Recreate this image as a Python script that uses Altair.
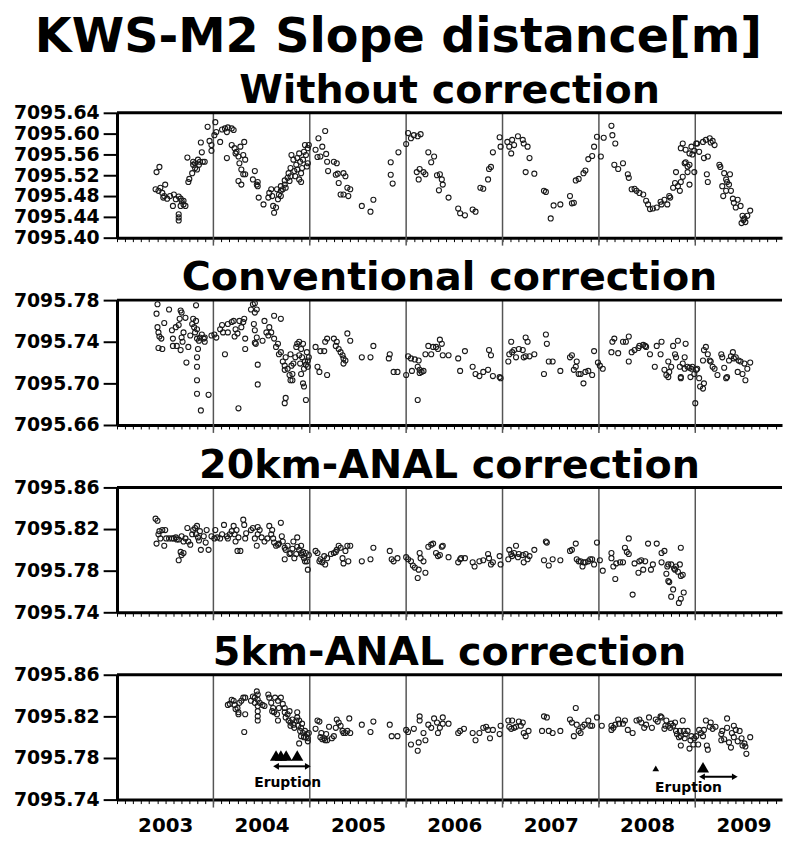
import altair as alt
import pandas as pd

# ------------------------------------------------------------------ data
MAIN_TITLE = "KWS-M2 Slope distance[m]"
PANEL_TITLES = ["Without correction", "Conventional correction",
                "20km-ANAL correction", "5km-ANAL correction"]
X_DOMAIN = [2003.0, 2009.9]
YEAR_LINES = [2004, 2005, 2006, 2007, 2008, 2009]
MONTH_TICKS = [round(2003 + k / 12, 4) for k in range(83)]
Y_DOMAINS = [[7095.40, 7095.64], [7095.66, 7095.78],
             [7095.74, 7095.86], [7095.74, 7095.86]]
Y_TICKS = [
    [7095.40, 7095.44, 7095.48, 7095.52, 7095.56, 7095.60, 7095.64],
    [7095.66, 7095.70, 7095.74, 7095.78],
    [7095.74, 7095.78, 7095.82, 7095.86],
    [7095.74, 7095.78, 7095.82, 7095.86],
]

NO_CORR = [
    (2003.41, 7095.526), (2003.44, 7095.536), (2003.40, 7095.493), (2003.43, 7095.490), (2003.45, 7095.496),
    (2003.47, 7095.486), (2003.49, 7095.480), (2003.50, 7095.502), (2003.48, 7095.477), (2003.52, 7095.475),
    (2003.55, 7095.480), (2003.59, 7095.483), (2003.61, 7095.474), (2003.64, 7095.479), (2003.66, 7095.475),
    (2003.67, 7095.471), (2003.69, 7095.464), (2003.66, 7095.461), (2003.64, 7095.445), (2003.64, 7095.439),
    (2003.64, 7095.433), (2003.71, 7095.461), (2003.69, 7095.471), (2003.58, 7095.461),
    (2003.74, 7095.507), (2003.75, 7095.513), (2003.78, 7095.524), (2003.79, 7095.540), (2003.81, 7095.543),
    (2003.79, 7095.546), (2003.81, 7095.534), (2003.83, 7095.531), (2003.84, 7095.550), (2003.85, 7095.540),
    (2003.86, 7095.546), (2003.89, 7095.546), (2003.88, 7095.564), (2003.87, 7095.583), (2003.91, 7095.546),
    (2003.94, 7095.613), (2003.96, 7095.586), (2003.98, 7095.567), (2003.98, 7095.578), (2003.73, 7095.554),
    (2004.02, 7095.622), (2004.03, 7095.603), (2004.01, 7095.597), (2004.07, 7095.584), (2004.09, 7095.608),
    (2004.12, 7095.610), (2004.14, 7095.603), (2004.15, 7095.612), (2004.19, 7095.610), (2004.21, 7095.607),
    (2004.14, 7095.553), (2004.19, 7095.578), (2004.22, 7095.572), (2004.23, 7095.562), (2004.24, 7095.565),
    (2004.26, 7095.556), (2004.28, 7095.575), (2004.31, 7095.559), (2004.32, 7095.584), (2004.33, 7095.550),
    (2004.27, 7095.543), (2004.29, 7095.531), (2004.26, 7095.509), (2004.29, 7095.502), (2004.31, 7095.522),
    (2004.33, 7095.522), (2004.41, 7095.512), (2004.43, 7095.528), (2004.45, 7095.502), (2004.46, 7095.507),
    (2004.46, 7095.499), (2004.47, 7095.477), (2004.52, 7095.464), (2004.57, 7095.477), (2004.58, 7095.486),
    (2004.60, 7095.493), (2004.61, 7095.480), (2004.62, 7095.461), (2004.63, 7095.448), (2004.65, 7095.458),
    (2004.67, 7095.474), (2004.68, 7095.483), (2004.66, 7095.493), (2004.70, 7095.490), (2004.70, 7095.499),
    (2004.72, 7095.493), (2004.74, 7095.502), (2004.74, 7095.510), (2004.77, 7095.515), (2004.78, 7095.524),
    (2004.80, 7095.518), (2004.80, 7095.534), (2004.81, 7095.559), (2004.83, 7095.550), (2004.84, 7095.528),
    (2004.86, 7095.540), (2004.87, 7095.553), (2004.89, 7095.562), (2004.90, 7095.546), (2004.91, 7095.524),
    (2004.91, 7095.507), (2004.92, 7095.534), (2004.93, 7095.550), (2004.94, 7095.565), (2004.95, 7095.578),
    (2004.96, 7095.559), (2004.98, 7095.572), (2004.98, 7095.543), (2004.99, 7095.578), (2004.97, 7095.537),
    (2004.70, 7095.480), (2004.75, 7095.496), (2004.79, 7095.509), (2004.85, 7095.518), (2004.87, 7095.531),
    (2004.89, 7095.512),
    (2005.06, 7095.569), (2005.08, 7095.555), (2005.09, 7095.591), (2005.11, 7095.556), (2005.13, 7095.575),
    (2005.16, 7095.605), (2005.17, 7095.561), (2005.18, 7095.546), (2005.19, 7095.528), (2005.25, 7095.546),
    (2005.27, 7095.521), (2005.28, 7095.543), (2005.29, 7095.523), (2005.30, 7095.505), (2005.32, 7095.483),
    (2005.35, 7095.524), (2005.37, 7095.518), (2005.35, 7095.483), (2005.39, 7095.496), (2005.42, 7095.493),
    (2005.40, 7095.480), (2005.54, 7095.461), (2005.63, 7095.450), (2005.66, 7095.473),
    (2005.84, 7095.545), (2005.84, 7095.521), (2005.86, 7095.504), (2005.92, 7095.564), (2006.00, 7095.580),
    (2006.02, 7095.601), (2006.05, 7095.591), (2006.08, 7095.597), (2006.12, 7095.595), (2006.15, 7095.599),
    (2006.11, 7095.526), (2006.13, 7095.512), (2006.14, 7095.532), (2006.18, 7095.526), (2006.20, 7095.522),
    (2006.23, 7095.564), (2006.26, 7095.545), (2006.29, 7095.556), (2006.32, 7095.520), (2006.35, 7095.522),
    (2006.37, 7095.512), (2006.34, 7095.491), (2006.38, 7095.502), (2006.44, 7095.477), (2006.54, 7095.456),
    (2006.56, 7095.447), (2006.61, 7095.443), (2006.69, 7095.454), (2006.72, 7095.450), (2006.77, 7095.496),
    (2006.80, 7095.494), (2006.85, 7095.512), (2006.86, 7095.532), (2006.88, 7095.536), (2006.90, 7095.564),
    (2006.97, 7095.593), (2006.98, 7095.575), (2007.05, 7095.584), (2007.07, 7095.575), (2007.10, 7095.588),
    (2007.09, 7095.562), (2007.12, 7095.578), (2007.16, 7095.595), (2007.21, 7095.588), (2007.22, 7095.581),
    (2007.26, 7095.575), (2007.28, 7095.553), (2007.24, 7095.526), (2007.33, 7095.523), (2007.43, 7095.490),
    (2007.45, 7095.488), (2007.50, 7095.437), (2007.53, 7095.462), (2007.60, 7095.464), (2007.70, 7095.480),
    (2007.72, 7095.466), (2007.74, 7095.467), (2007.76, 7095.510), (2007.79, 7095.513), (2007.84, 7095.524),
    (2007.86, 7095.529), (2007.89, 7095.551), (2007.93, 7095.557), (2007.95, 7095.575), (2007.98, 7095.594),
    (2008.02, 7095.556), (2008.05, 7095.592), (2008.13, 7095.615), (2008.14, 7095.597), (2008.17, 7095.581),
    (2008.16, 7095.540), (2008.20, 7095.532), (2008.25, 7095.543), (2008.30, 7095.522), (2008.31, 7095.515),
    (2008.34, 7095.493), (2008.37, 7095.494), (2008.39, 7095.490), (2008.42, 7095.486), (2008.46, 7095.483),
    (2008.49, 7095.471), (2008.51, 7095.464), (2008.53, 7095.455), (2008.56, 7095.456), (2008.60, 7095.458),
    (2008.64, 7095.469), (2008.65, 7095.464), (2008.68, 7095.473), (2008.71, 7095.464), (2008.73, 7095.480),
    (2008.74, 7095.477), (2008.77, 7095.496), (2008.79, 7095.505), (2008.80, 7095.526), (2008.82, 7095.499),
    (2008.84, 7095.490), (2008.85, 7095.507), (2008.87, 7095.517), (2008.89, 7095.543), (2008.90, 7095.545),
    (2008.92, 7095.537), (2008.94, 7095.502), (2008.85, 7095.572), (2008.87, 7095.581), (2008.90, 7095.569),
    (2008.94, 7095.562), (2008.96, 7095.575), (2008.97, 7095.560), (2008.99, 7095.567), (2009.01, 7095.581),
    (2008.99, 7095.526), (2008.92, 7095.526), (2008.94, 7095.540), (2009.02, 7095.581), (2009.04, 7095.565),
    (2009.08, 7095.584), (2009.11, 7095.588), (2009.15, 7095.591), (2009.16, 7095.583), (2009.20, 7095.578),
    (2009.18, 7095.586), (2009.09, 7095.553), (2009.13, 7095.556), (2009.12, 7095.522), (2009.13, 7095.507),
    (2009.25, 7095.540), (2009.26, 7095.536), (2009.30, 7095.524), (2009.32, 7095.512), (2009.33, 7095.507),
    (2009.36, 7095.522), (2009.28, 7095.499), (2009.29, 7095.480), (2009.32, 7095.490), (2009.35, 7095.502),
    (2009.37, 7095.490), (2009.39, 7095.475), (2009.40, 7095.467), (2009.42, 7095.458), (2009.44, 7095.473),
    (2009.47, 7095.461), (2009.49, 7095.442), (2009.48, 7095.428), (2009.51, 7095.437), (2009.52, 7095.430),
    (2009.54, 7095.442), (2009.57, 7095.452), (2009.50, 7095.434),
]

CONVENTIONAL = [
    (2003.42, 7095.776), (2003.41, 7095.767), (2003.42, 7095.754), (2003.43, 7095.749), (2003.44, 7095.745),
    (2003.46, 7095.743), (2003.43, 7095.734), (2003.47, 7095.733), (2003.49, 7095.758), (2003.54, 7095.771),
    (2003.57, 7095.751), (2003.58, 7095.743), (2003.61, 7095.754), (2003.64, 7095.756), (2003.65, 7095.762),
    (2003.66, 7095.770), (2003.67, 7095.768), (2003.67, 7095.744), (2003.68, 7095.740), (2003.69, 7095.749),
    (2003.71, 7095.763), (2003.66, 7095.732), (2003.62, 7095.736), (2003.58, 7095.736), (2003.72, 7095.720),
    (2003.74, 7095.735), (2003.76, 7095.746), (2003.78, 7095.757), (2003.79, 7095.762), (2003.80, 7095.754),
    (2003.81, 7095.749), (2003.82, 7095.775), (2003.82, 7095.760), (2003.83, 7095.752), (2003.83, 7095.743),
    (2003.84, 7095.733), (2003.85, 7095.741), (2003.86, 7095.744), (2003.83, 7095.725), (2003.83, 7095.716),
    (2003.83, 7095.703), (2003.83, 7095.690), (2003.87, 7095.674), (2003.88, 7095.747), (2003.90, 7095.743),
    (2003.91, 7095.740), (2003.91, 7095.744), (2003.95, 7095.689), (2003.98, 7095.746), (2004.01, 7095.747),
    (2004.03, 7095.744), (2004.07, 7095.752), (2004.09, 7095.756), (2004.10, 7095.749), (2004.12, 7095.728),
    (2004.15, 7095.749), (2004.15, 7095.757), (2004.19, 7095.759), (2004.21, 7095.760), (2004.22, 7095.745),
    (2004.23, 7095.752), (2004.25, 7095.748), (2004.27, 7095.760), (2004.29, 7095.754), (2004.31, 7095.759),
    (2004.32, 7095.762), (2004.33, 7095.743), (2004.33, 7095.733), (2004.26, 7095.676), (2004.39, 7095.771),
    (2004.41, 7095.776), (2004.43, 7095.777), (2004.43, 7095.768), (2004.45, 7095.771), (2004.42, 7095.757),
    (2004.43, 7095.751), (2004.45, 7095.744), (2004.43, 7095.739), (2004.44, 7095.738), (2004.46, 7095.718),
    (2004.46, 7095.699), (2004.51, 7095.741), (2004.53, 7095.760), (2004.55, 7095.749), (2004.57, 7095.746),
    (2004.58, 7095.754), (2004.60, 7095.749), (2004.63, 7095.765), (2004.63, 7095.743), (2004.65, 7095.735),
    (2004.67, 7095.738), (2004.68, 7095.728), (2004.70, 7095.762), (2004.70, 7095.730), (2004.72, 7095.721),
    (2004.74, 7095.717), (2004.74, 7095.713), (2004.75, 7095.725), (2004.77, 7095.714), (2004.79, 7095.708),
    (2004.80, 7095.703), (2004.80, 7095.728), (2004.81, 7095.717), (2004.82, 7095.709), (2004.82, 7095.703),
    (2004.75, 7095.686), (2004.74, 7095.681), (2004.83, 7095.719), (2004.85, 7095.725), (2004.86, 7095.735),
    (2004.87, 7095.738), (2004.89, 7095.740), (2004.89, 7095.727), (2004.90, 7095.719), (2004.91, 7095.709),
    (2004.91, 7095.733), (2004.92, 7095.725), (2004.93, 7095.738), (2004.94, 7095.714), (2004.95, 7095.721),
    (2004.96, 7095.718), (2004.97, 7095.730), (2004.98, 7095.722), (2004.98, 7095.716), (2004.99, 7095.725),
    (2004.94, 7095.697), (2004.96, 7095.684), (2004.93, 7095.700),
    (2005.06, 7095.735), (2005.08, 7095.716), (2005.10, 7095.711), (2005.11, 7095.731), (2005.15, 7095.731),
    (2005.16, 7095.740), (2005.18, 7095.708), (2005.18, 7095.743), (2005.25, 7095.743), (2005.27, 7095.736),
    (2005.28, 7095.740), (2005.30, 7095.733), (2005.32, 7095.730), (2005.34, 7095.727), (2005.35, 7095.724),
    (2005.35, 7095.719), (2005.37, 7095.722), (2005.39, 7095.748), (2005.42, 7095.741), (2005.54, 7095.725),
    (2005.63, 7095.725), (2005.66, 7095.736), (2005.82, 7095.724), (2005.83, 7095.728), (2005.87, 7095.711),
    (2005.91, 7095.711), (2006.00, 7095.708), (2006.02, 7095.726), (2006.05, 7095.724), (2006.06, 7095.712),
    (2006.09, 7095.723), (2006.12, 7095.716), (2006.13, 7095.722), (2006.14, 7095.713), (2006.14, 7095.710),
    (2006.16, 7095.711), (2006.18, 7095.712), (2006.12, 7095.684), (2006.20, 7095.728), (2006.23, 7095.736),
    (2006.26, 7095.728), (2006.28, 7095.735), (2006.31, 7095.735), (2006.33, 7095.733), (2006.35, 7095.742),
    (2006.37, 7095.738), (2006.38, 7095.727), (2006.44, 7095.727), (2006.54, 7095.724), (2006.56, 7095.712),
    (2006.61, 7095.731), (2006.69, 7095.716), (2006.72, 7095.709), (2006.76, 7095.707), (2006.80, 7095.711),
    (2006.85, 7095.713), (2006.86, 7095.732), (2006.88, 7095.727), (2006.90, 7095.707), (2006.97, 7095.706),
    (2006.98, 7095.705), (2007.06, 7095.721), (2007.07, 7095.728), (2007.09, 7095.740), (2007.10, 7095.730),
    (2007.12, 7095.732), (2007.14, 7095.725), (2007.17, 7095.733), (2007.21, 7095.732), (2007.22, 7095.725),
    (2007.24, 7095.726), (2007.26, 7095.740), (2007.28, 7095.726), (2007.24, 7095.744), (2007.33, 7095.728),
    (2007.43, 7095.709), (2007.45, 7095.747), (2007.46, 7095.738), (2007.48, 7095.721), (2007.52, 7095.721),
    (2007.60, 7095.712), (2007.70, 7095.725), (2007.72, 7095.727), (2007.74, 7095.713), (2007.76, 7095.716),
    (2007.77, 7095.721), (2007.79, 7095.709), (2007.81, 7095.709), (2007.84, 7095.700), (2007.86, 7095.711),
    (2007.89, 7095.712), (2007.93, 7095.708), (2007.95, 7095.731), (2007.99, 7095.720), (2008.01, 7095.717),
    (2008.04, 7095.714), (2008.13, 7095.730), (2008.14, 7095.740), (2008.16, 7095.743), (2008.20, 7095.729),
    (2008.25, 7095.740), (2008.28, 7095.740), (2008.31, 7095.721), (2008.31, 7095.745), (2008.34, 7095.730),
    (2008.37, 7095.732), (2008.41, 7095.734), (2008.42, 7095.736), (2008.46, 7095.737), (2008.48, 7095.736),
    (2008.49, 7095.735), (2008.53, 7095.728), (2008.58, 7095.716), (2008.60, 7095.736), (2008.64, 7095.728),
    (2008.65, 7095.740), (2008.68, 7095.713), (2008.70, 7095.708), (2008.72, 7095.706), (2008.72, 7095.721),
    (2008.73, 7095.711), (2008.75, 7095.716), (2008.77, 7095.736), (2008.79, 7095.728), (2008.80, 7095.725),
    (2008.82, 7095.741), (2008.84, 7095.716), (2008.85, 7095.706), (2008.85, 7095.705), (2008.87, 7095.719),
    (2008.89, 7095.714), (2008.90, 7095.738), (2008.89, 7095.725), (2008.92, 7095.716), (2008.94, 7095.715),
    (2008.95, 7095.706), (2008.96, 7095.714), (2008.97, 7095.716), (2008.99, 7095.709), (2009.00, 7095.681),
    (2009.01, 7095.713), (2009.02, 7095.714), (2009.04, 7095.705), (2009.05, 7095.697), (2009.08, 7095.695),
    (2009.09, 7095.700), (2009.08, 7095.722), (2009.09, 7095.732), (2009.11, 7095.735), (2009.13, 7095.728),
    (2009.15, 7095.722), (2009.16, 7095.721), (2009.18, 7095.716), (2009.20, 7095.714), (2009.23, 7095.708),
    (2009.27, 7095.728), (2009.28, 7095.725), (2009.30, 7095.715), (2009.32, 7095.705), (2009.33, 7095.706),
    (2009.35, 7095.722), (2009.37, 7095.726), (2009.39, 7095.730), (2009.40, 7095.724), (2009.42, 7095.725),
    (2009.44, 7095.711), (2009.45, 7095.722), (2009.47, 7095.721), (2009.49, 7095.709), (2009.51, 7095.719),
    (2009.52, 7095.703), (2009.54, 7095.714), (2009.57, 7095.720),
]

ANAL_20KM = [
    (2003.40, 7095.830), (2003.42, 7095.828), (2003.41, 7095.806), (2003.43, 7095.815), (2003.44, 7095.818),
    (2003.45, 7095.811), (2003.47, 7095.819), (2003.49, 7095.804), (2003.50, 7095.819), (2003.51, 7095.811),
    (2003.54, 7095.811), (2003.57, 7095.811), (2003.59, 7095.811), (2003.61, 7095.812), (2003.62, 7095.810),
    (2003.64, 7095.810), (2003.66, 7095.798), (2003.64, 7095.790), (2003.67, 7095.795), (2003.69, 7095.797),
    (2003.67, 7095.813), (2003.69, 7095.808), (2003.71, 7095.811), (2003.73, 7095.821), (2003.74, 7095.808),
    (2003.76, 7095.805), (2003.78, 7095.815), (2003.79, 7095.819), (2003.81, 7095.821), (2003.82, 7095.815),
    (2003.83, 7095.823), (2003.84, 7095.812), (2003.85, 7095.809), (2003.86, 7095.818), (2003.87, 7095.800),
    (2003.90, 7095.813), (2003.92, 7095.807), (2003.93, 7095.819), (2003.95, 7095.800), (2003.98, 7095.813),
    (2004.01, 7095.811), (2004.02, 7095.819), (2004.04, 7095.812), (2004.07, 7095.811), (2004.09, 7095.815),
    (2004.11, 7095.824), (2004.14, 7095.813), (2004.15, 7095.811), (2004.17, 7095.815), (2004.19, 7095.818),
    (2004.21, 7095.823), (2004.22, 7095.815), (2004.23, 7095.808), (2004.24, 7095.819), (2004.25, 7095.799),
    (2004.26, 7095.812), (2004.28, 7095.799), (2004.31, 7095.829), (2004.32, 7095.824), (2004.33, 7095.811),
    (2004.34, 7095.816), (2004.39, 7095.819), (2004.41, 7095.821), (2004.43, 7095.811), (2004.45, 7095.804),
    (2004.46, 7095.815), (2004.46, 7095.822), (2004.48, 7095.819), (2004.50, 7095.812), (2004.53, 7095.808),
    (2004.56, 7095.811), (2004.58, 7095.823), (2004.60, 7095.815), (2004.61, 7095.819), (2004.62, 7095.811),
    (2004.63, 7095.807), (2004.65, 7095.804), (2004.67, 7095.805), (2004.68, 7095.806), (2004.70, 7095.826),
    (2004.71, 7095.813), (2004.72, 7095.808), (2004.74, 7095.802), (2004.74, 7095.791), (2004.75, 7095.800),
    (2004.77, 7095.804), (2004.79, 7095.796), (2004.80, 7095.797), (2004.82, 7095.801), (2004.83, 7095.808),
    (2004.84, 7095.792), (2004.86, 7095.796), (2004.87, 7095.803), (2004.87, 7095.812), (2004.89, 7095.800),
    (2004.91, 7095.797), (2004.91, 7095.804), (2004.92, 7095.795), (2004.93, 7095.798), (2004.94, 7095.792),
    (2004.95, 7095.789), (2004.96, 7095.797), (2004.97, 7095.789), (2004.98, 7095.781), (2004.99, 7095.795),
    (2005.06, 7095.799), (2005.08, 7095.797), (2005.10, 7095.789), (2005.11, 7095.791), (2005.13, 7095.788),
    (2005.15, 7095.794), (2005.16, 7095.786), (2005.18, 7095.792), (2005.22, 7095.796), (2005.25, 7095.797),
    (2005.27, 7095.798), (2005.28, 7095.800), (2005.30, 7095.804), (2005.32, 7095.802), (2005.34, 7095.792),
    (2005.35, 7095.787), (2005.37, 7095.799), (2005.39, 7095.804), (2005.40, 7095.789), (2005.42, 7095.804),
    (2005.54, 7095.789), (2005.63, 7095.791), (2005.66, 7095.802), (2005.83, 7095.799), (2005.85, 7095.791),
    (2005.87, 7095.789), (2005.91, 7095.792), (2006.00, 7095.793), (2006.02, 7095.791), (2006.05, 7095.789),
    (2006.07, 7095.785), (2006.09, 7095.783), (2006.12, 7095.773), (2006.13, 7095.781), (2006.14, 7095.797),
    (2006.15, 7095.792), (2006.18, 7095.789), (2006.20, 7095.778), (2006.23, 7095.803), (2006.26, 7095.805),
    (2006.28, 7095.806), (2006.31, 7095.797), (2006.33, 7095.794), (2006.35, 7095.795), (2006.37, 7095.803),
    (2006.38, 7095.804), (2006.44, 7095.793), (2006.54, 7095.788), (2006.56, 7095.791), (2006.57, 7095.792),
    (2006.61, 7095.792), (2006.69, 7095.788), (2006.71, 7095.784), (2006.76, 7095.789), (2006.80, 7095.790),
    (2006.85, 7095.796), (2006.86, 7095.792), (2006.88, 7095.786), (2006.90, 7095.788), (2006.97, 7095.794),
    (2006.98, 7095.786), (2007.06, 7095.791), (2007.07, 7095.800), (2007.09, 7095.796), (2007.10, 7095.794),
    (2007.12, 7095.797), (2007.14, 7095.804), (2007.16, 7095.793), (2007.17, 7095.796), (2007.21, 7095.795),
    (2007.22, 7095.788), (2007.24, 7095.796), (2007.26, 7095.791), (2007.28, 7095.794), (2007.33, 7095.800),
    (2007.43, 7095.790), (2007.45, 7095.808), (2007.46, 7095.807), (2007.48, 7095.785), (2007.52, 7095.791),
    (2007.60, 7095.790), (2007.70, 7095.799), (2007.72, 7095.800), (2007.76, 7095.806), (2007.77, 7095.791),
    (2007.79, 7095.789), (2007.81, 7095.789), (2007.83, 7095.784), (2007.84, 7095.788), (2007.86, 7095.788),
    (2007.89, 7095.789), (2007.91, 7095.791), (2007.93, 7095.791), (2007.95, 7095.786), (2007.98, 7095.807),
    (2008.01, 7095.790), (2008.04, 7095.780), (2008.13, 7095.797), (2008.13, 7095.792), (2008.15, 7095.784),
    (2008.17, 7095.772), (2008.18, 7095.787), (2008.22, 7095.788), (2008.25, 7095.788), (2008.27, 7095.802),
    (2008.29, 7095.798), (2008.31, 7095.811), (2008.31, 7095.796), (2008.35, 7095.757), (2008.37, 7095.787),
    (2008.41, 7095.778), (2008.42, 7095.789), (2008.44, 7095.790), (2008.46, 7095.781), (2008.48, 7095.789),
    (2008.51, 7095.806), (2008.54, 7095.781), (2008.56, 7095.786), (2008.60, 7095.806), (2008.65, 7095.788),
    (2008.65, 7095.797), (2008.68, 7095.799), (2008.70, 7095.777), (2008.71, 7095.784), (2008.72, 7095.786),
    (2008.72, 7095.770), (2008.73, 7095.769), (2008.75, 7095.786), (2008.77, 7095.762), (2008.78, 7095.782),
    (2008.79, 7095.781), (2008.80, 7095.784), (2008.82, 7095.779), (2008.84, 7095.786), (2008.85, 7095.775),
    (2008.85, 7095.802), (2008.87, 7095.776), (2008.88, 7095.759), (2008.85, 7095.753), (2008.83, 7095.749),
    (2008.75, 7095.755),
]

ANAL_5KM = [
    (2004.15, 7095.831), (2004.17, 7095.832), (2004.19, 7095.836), (2004.21, 7095.835), (2004.22, 7095.831),
    (2004.23, 7095.827), (2004.25, 7095.828), (2004.26, 7095.824), (2004.26, 7095.822), (2004.27, 7095.833),
    (2004.29, 7095.835), (2004.31, 7095.838), (2004.33, 7095.838), (2004.33, 7095.822), (2004.32, 7095.805),
    (2004.39, 7095.835), (2004.41, 7095.839), (2004.43, 7095.838), (2004.43, 7095.833), (2004.45, 7095.844),
    (2004.46, 7095.841), (2004.46, 7095.830), (2004.46, 7095.825), (2004.46, 7095.820), (2004.46, 7095.816),
    (2004.46, 7095.836), (2004.48, 7095.833), (2004.51, 7095.831), (2004.53, 7095.830), (2004.57, 7095.841),
    (2004.58, 7095.838), (2004.60, 7095.833), (2004.61, 7095.825), (2004.62, 7095.828), (2004.63, 7095.824),
    (2004.64, 7095.838), (2004.66, 7095.822), (2004.67, 7095.816), (2004.67, 7095.835), (2004.68, 7095.828),
    (2004.70, 7095.838), (2004.72, 7095.832), (2004.74, 7095.828), (2004.74, 7095.824), (2004.75, 7095.819),
    (2004.77, 7095.822), (2004.78, 7095.816), (2004.79, 7095.825), (2004.80, 7095.811), (2004.80, 7095.814),
    (2004.82, 7095.817), (2004.83, 7095.812), (2004.84, 7095.809), (2004.86, 7095.816), (2004.87, 7095.819),
    (2004.87, 7095.824), (2004.88, 7095.811), (2004.89, 7095.816), (2004.90, 7095.806), (2004.91, 7095.801),
    (2004.91, 7095.809), (2004.92, 7095.813), (2004.93, 7095.804), (2004.94, 7095.800), (2004.95, 7095.806),
    (2004.96, 7095.800), (2004.97, 7095.803), (2004.98, 7095.799), (2004.98, 7095.796), (2004.99, 7095.804),
    (2004.89, 7095.794),
    (2005.06, 7095.808), (2005.08, 7095.816), (2005.10, 7095.815), (2005.11, 7095.800), (2005.12, 7095.804),
    (2005.13, 7095.798), (2005.15, 7095.799), (2005.16, 7095.797), (2005.17, 7095.803), (2005.18, 7095.797),
    (2005.20, 7095.810), (2005.23, 7095.799), (2005.25, 7095.801), (2005.27, 7095.809), (2005.28, 7095.817),
    (2005.30, 7095.814), (2005.32, 7095.811), (2005.34, 7095.806), (2005.35, 7095.804), (2005.37, 7095.804),
    (2005.39, 7095.806), (2005.41, 7095.818), (2005.42, 7095.804), (2005.54, 7095.812), (2005.63, 7095.805),
    (2005.66, 7095.815), (2005.83, 7095.812), (2005.85, 7095.801), (2005.91, 7095.801), (2006.00, 7095.807),
    (2006.02, 7095.805), (2006.05, 7095.793), (2006.08, 7095.808), (2006.12, 7095.787), (2006.13, 7095.795),
    (2006.14, 7095.820), (2006.14, 7095.816), (2006.18, 7095.804), (2006.20, 7095.797), (2006.23, 7095.812),
    (2006.26, 7095.809), (2006.29, 7095.818), (2006.32, 7095.814), (2006.33, 7095.804), (2006.35, 7095.809),
    (2006.38, 7095.819), (2006.38, 7095.813), (2006.44, 7095.813), (2006.54, 7095.804), (2006.56, 7095.806),
    (2006.60, 7095.808), (2006.69, 7095.804), (2006.72, 7095.797), (2006.76, 7095.804), (2006.80, 7095.809),
    (2006.83, 7095.810), (2006.85, 7095.807), (2006.87, 7095.799), (2006.90, 7095.807), (2006.97, 7095.803),
    (2006.98, 7095.811), (2007.06, 7095.816), (2007.07, 7095.810), (2007.09, 7095.808), (2007.10, 7095.816),
    (2007.12, 7095.809), (2007.14, 7095.810), (2007.17, 7095.815), (2007.19, 7095.811), (2007.21, 7095.814),
    (2007.22, 7095.804), (2007.24, 7095.801), (2007.27, 7095.806), (2007.41, 7095.806), (2007.43, 7095.820),
    (2007.46, 7095.819), (2007.48, 7095.806), (2007.52, 7095.804), (2007.60, 7095.806), (2007.70, 7095.817),
    (2007.72, 7095.814), (2007.74, 7095.801), (2007.76, 7095.828), (2007.77, 7095.812), (2007.79, 7095.806),
    (2007.81, 7095.804), (2007.83, 7095.810), (2007.85, 7095.812), (2007.89, 7095.816), (2007.91, 7095.811),
    (2007.93, 7095.811), (2007.98, 7095.819), (2008.03, 7095.811), (2008.13, 7095.807), (2008.13, 7095.811),
    (2008.15, 7095.809), (2008.17, 7095.812), (2008.20, 7095.817), (2008.21, 7095.813), (2008.25, 7095.813),
    (2008.27, 7095.816), (2008.30, 7095.807), (2008.35, 7095.804), (2008.39, 7095.816), (2008.42, 7095.817),
    (2008.44, 7095.814), (2008.47, 7095.809), (2008.49, 7095.812), (2008.52, 7095.819), (2008.55, 7095.809),
    (2008.59, 7095.817), (2008.61, 7095.815), (2008.64, 7095.820), (2008.65, 7095.819), (2008.68, 7095.808),
    (2008.69, 7095.811), (2008.70, 7095.816), (2008.72, 7095.811), (2008.74, 7095.809), (2008.75, 7095.813),
    (2008.77, 7095.811), (2008.79, 7095.814), (2008.80, 7095.806), (2008.81, 7095.803), (2008.83, 7095.800),
    (2008.84, 7095.806), (2008.85, 7095.792), (2008.85, 7095.801), (2008.87, 7095.816), (2008.88, 7095.806),
    (2008.89, 7095.799), (2008.90, 7095.803), (2008.92, 7095.806), (2008.94, 7095.789), (2008.95, 7095.797),
    (2008.96, 7095.801), (2008.98, 7095.793), (2008.99, 7095.799), (2009.01, 7095.801), (2009.03, 7095.793),
    (2009.04, 7095.807), (2009.06, 7095.804), (2009.08, 7095.801), (2009.09, 7095.807), (2009.11, 7095.816),
    (2009.12, 7095.792), (2009.13, 7095.788), (2009.15, 7095.810), (2009.16, 7095.814), (2009.18, 7095.808),
    (2009.21, 7095.810), (2009.27, 7095.803), (2009.27, 7095.797), (2009.28, 7095.806), (2009.30, 7095.798),
    (2009.33, 7095.818), (2009.33, 7095.809), (2009.35, 7095.795), (2009.37, 7095.790), (2009.38, 7095.804),
    (2009.40, 7095.811), (2009.40, 7095.800), (2009.42, 7095.807), (2009.44, 7095.796), (2009.46, 7095.806),
    (2009.48, 7095.799), (2009.49, 7095.792), (2009.51, 7095.794), (2009.52, 7095.791), (2009.53, 7095.784),
    (2009.57, 7095.800),
]

# eruption annotations (5km panel)
ERUPT_BIG = [(2004.65, 7095.7825), (2004.70, 7095.7825), (2004.755, 7095.7825),
             (2004.87, 7095.7825), (2009.08, 7095.771)]
ERUPT_SMALL = [(2008.59, 7095.770)]
ERUPT_ARROWS = [(2004.65, 2004.98, 7095.772), (2009.07, 2009.41, 7095.762)]
ERUPT_LABELS = [(2004.77, 7095.756, "Eruption"), (2008.93, 7095.751, "Eruption")]

# ------------------------------------------------------------------ chart
FONT = "DejaVu Sans"
INK = "#000000"
W, H = 671, 126


def panel(i, pts, show_labels):
    xs = alt.Scale(domain=X_DOMAIN, nice=False, zero=False)
    ys = alt.Scale(domain=Y_DOMAINS[i], nice=False, zero=False)
    x_axis = alt.Axis(
        values=MONTH_TICKS, title=None, grid=False, tickSize=4, tickWidth=1,
        tickColor=INK, domainWidth=3, domainColor=INK, labels=show_labels,
        labelOverlap=False, labelFlush=False,
        labelExpr="abs(datum.value - floor(datum.value) - 0.5) < 0.02 ? format(floor(datum.value), 'd') : ''",
        labelFont=FONT, labelFontSize=20, labelFontWeight="bold",
        labelColor=INK, labelPadding=12)
    y_axis = alt.Axis(
        values=Y_TICKS[i], format=".2f", title=None, grid=False, tickSize=14,
        tickWidth=2, tickColor=INK, domainWidth=3, domainColor=INK,
        labelFont=FONT, labelFontSize=19, labelFontWeight="bold",
        labelColor=INK, labelPadding=4)

    def X(field):
        return alt.X(field, scale=xs, axis=x_axis)

    def Y(field):
        return alt.Y(field, scale=ys, axis=y_axis)

    df = pd.DataFrame(pts, columns=["t", "v"])
    grid = alt.Chart(pd.DataFrame({"t": YEAR_LINES})).mark_rule(
        color="#555555", strokeWidth=1.5, clip=False).encode(
        x=X("t:Q"), y=alt.value(0), y2=alt.value(H + 8))
    top = alt.Chart(pd.DataFrame({"k": [0]})).mark_rule(
        color=INK, strokeWidth=3).encode(x=alt.value(0), x2=alt.value(W), y=alt.value(0))
    points = alt.Chart(df).mark_point(
        shape="circle", filled=False, size=26, strokeWidth=1.1, color="#1a1a1a", opacity=1).encode(
        x=X("t:Q"), y=Y("v:Q"))
    ttl = alt.Chart(pd.DataFrame({"label": [PANEL_TITLES[i]]})).mark_text(
        font=FONT, fontSize=40, fontWeight="bold", color=INK, align="center",
        baseline="alphabetic").encode(x=alt.value(W / 2), y=alt.value(-10), text="label:N")
    layers = [grid, top, points, ttl]

    if i == 0:
        main = alt.Chart(pd.DataFrame({"label": [MAIN_TITLE]})).mark_text(
            font=FONT, fontSize=48, fontWeight="bold", color=INK, align="center",
            baseline="alphabetic").encode(x=alt.value(284), y=alt.value(-61), text="label:N")
        layers.append(main)

    if i == 3:
        big = pd.DataFrame(ERUPT_BIG, columns=["t", "v"])
        small = pd.DataFrame(ERUPT_SMALL, columns=["t", "v"])
        arr = pd.DataFrame(ERUPT_ARROWS, columns=["t0", "t1", "v"])
        lab = pd.DataFrame(ERUPT_LABELS, columns=["t", "v", "label"])
        layers += [
            alt.Chart(big).mark_point(shape="triangle-up", filled=True, size=150,
                                      color=INK, opacity=1).encode(x=X("t:Q"), y=Y("v:Q")),
            alt.Chart(small).mark_point(shape="triangle-up", filled=True, size=45,
                                        color=INK, opacity=1).encode(x=X("t:Q"), y=Y("v:Q")),
            alt.Chart(arr).mark_rule(color=INK, strokeWidth=2).encode(
                x=X("t0:Q"), x2="t1:Q", y=Y("v:Q")),
            alt.Chart(arr).mark_point(shape="triangle-left", filled=True, size=45,
                                      color=INK, opacity=1).encode(x=X("t0:Q"), y=Y("v:Q")),
            alt.Chart(arr).mark_point(shape="triangle-right", filled=True, size=45,
                                      color=INK, opacity=1).encode(x=X("t1:Q"), y=Y("v:Q")),
            alt.Chart(lab).mark_text(font=FONT, fontSize=14, fontWeight="bold", color=INK,
                                     align="center", baseline="middle").encode(
                x=X("t:Q"), y=Y("v:Q"), text="label:N"),
        ]
    return alt.layer(*layers).properties(width=W, height=H)


panels = [
    panel(0, NO_CORR, False),
    panel(1, CONVENTIONAL, False),
    panel(2, ANAL_20KM, False),
    panel(3, ANAL_5KM, True),
]

chart = alt.vconcat(*panels, spacing=63, bounds="flush").properties(
    padding={"left": 4, "top": 2, "right": 0, "bottom": 0}
).configure_view(stroke="transparent")

chart.save("out.html", embed_options={"renderer": "svg", "actions": False})
